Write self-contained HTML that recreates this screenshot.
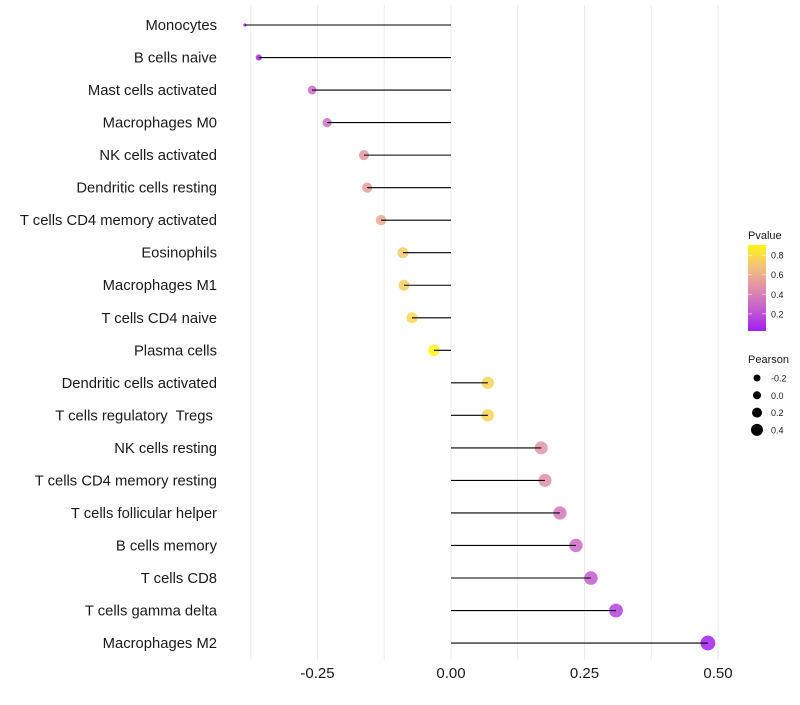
<!DOCTYPE html>
<html><head><meta charset="utf-8"><style>
body{margin:0;background:#fff;font-family:"Liberation Sans",sans-serif}
</style></head><body>
<svg id="c" width="800" height="700" xmlns="http://www.w3.org/2000/svg"></svg>
<script>
const categories=["Monocytes","B cells naive","Mast cells activated","Macrophages M0","NK cells activated","Dendritic cells resting","T cells CD4 memory activated","Eosinophils","Macrophages M1","T cells CD4 naive","Plasma cells","Dendritic cells activated","T cells regulatory  Tregs ","NK cells resting","T cells CD4 memory resting","T cells follicular helper","B cells memory","T cells CD8","T cells gamma delta","Macrophages M2"];
const pearson=[-0.386,-0.36,-0.26,-0.232,-0.163,-0.157,-0.131,-0.09,-0.088,-0.073,-0.032,0.069,0.069,0.169,0.176,0.204,0.234,0.262,0.309,0.481];
const pvalue=[0.05,0.06,0.3,0.32,0.5,0.52,0.58,0.72,0.74,0.78,0.9,0.76,0.76,0.48,0.46,0.36,0.3,0.24,0.15,0.03];
const xTicks=[-0.25,0,0.25,0.5];
const xTickLabels=["-0.25","0.00","0.25","0.50"];
const legP=[0.8,0.6,0.4,0.2];
const legR=[-0.2,0,0.2,0.4];
const NS="http://www.w3.org/2000/svg";
const svg=document.getElementById('c');
function el(t,a,p){const e=document.createElementNS(NS,t);for(const k in a)e.setAttribute(k,a[k]);(p||svg).appendChild(e);return e;}
const X=v=>451+v*534;
const Y=i=>25+i*32.53;
const pmin=0.024,pmax=0.904;
const stops=[[0xA0,0x20,0xF0],[0xC4,0x5C,0xD0],[0xDF,0x90,0xA8],[0xF2,0xC2,0x7A],[0xFF,0xF5,0x10]];
function col(p){let t=Math.max(0,Math.min(1,(p-pmin)/(pmax-pmin)))*4;const i=Math.min(3,Math.floor(t)),f=t-i;const a=stops[i],b=stops[i+1];return `rgb(${a.map((v,k)=>Math.round(v+(b[k]-v)*f)).join(',')})`;}
const rmin=-0.386,rmax=0.481;
const R=v=>{const t=Math.max(0,(v-rmin)/(rmax-rmin));return 1.6+5.8*Math.pow(t,0.38);};
[-0.375,-0.25,-0.125,0,0.125,0.25,0.375,0.5].forEach(v=>{const g=el('line',{x1:X(v),x2:X(v),y1:5,y2:660,stroke:'#ebebeb','stroke-width':1});
});
categories.forEach((c,i)=>{
 const t=el('text',{x:217,y:Y(i)+5,'text-anchor':'end','font-size':14.8,fill:'#1a1a1a','xml:space':'preserve'});t.style.whiteSpace='pre';t.textContent=c;
 
 const pt=el('circle',{cx:X(pearson[i]),cy:Y(i),r:R(pearson[i]),fill:col(pvalue[i]),'fill-opacity':0.85});
 
 const ln=el('line',{x1:X(0),x2:X(pearson[i]),y1:Y(i),y2:Y(i),stroke:'#000','stroke-width':1.1});
 
});
xTicks.forEach((v,i)=>{const t=el('text',{x:X(v),y:678,'text-anchor':'middle','font-size':15,fill:'#1a1a1a'});t.textContent=xTickLabels[i];
});
const lt=el('text',{x:748,y:239,'font-size':11,fill:'#1a1a1a'});lt.textContent='Pvalue';

const defs=el('defs',{});const lg=el('linearGradient',{id:'g',x1:0,y1:1,x2:0,y2:0},defs);
stops.forEach((s,i)=>el('stop',{offset:i/4,'stop-color':`rgb(${s.join(',')})`},lg));
const cb=el('rect',{x:748,y:245,width:18,height:86,fill:'url(#g)'});

const pY=p=>331-(p-pmin)/(pmax-pmin)*86;
legP.forEach(p=>{el('line',{x1:748,x2:752,y1:pY(p),y2:pY(p),stroke:'#fff','stroke-opacity':0.6});el('line',{x1:762,x2:766,y1:pY(p),y2:pY(p),stroke:'#fff','stroke-opacity':0.6});
const t=el('text',{x:771,y:pY(p)+3.5,'font-size':9,fill:'#1a1a1a'});t.textContent=p.toFixed(1);
});
const st=el('text',{x:748,y:363,'font-size':11,fill:'#1a1a1a'});st.textContent='Pearson';

const legSize=[3.5,4,5,6];
legR.forEach((v,i)=>{const y=378+i*17.3;const c=el('circle',{cx:757,cy:y,r:legSize[i],fill:'#000'});

const t=el('text',{x:771,y:y+3.5,'font-size':9,fill:'#1a1a1a'});t.textContent=v.toFixed(1);
});
</script>
</body></html>
